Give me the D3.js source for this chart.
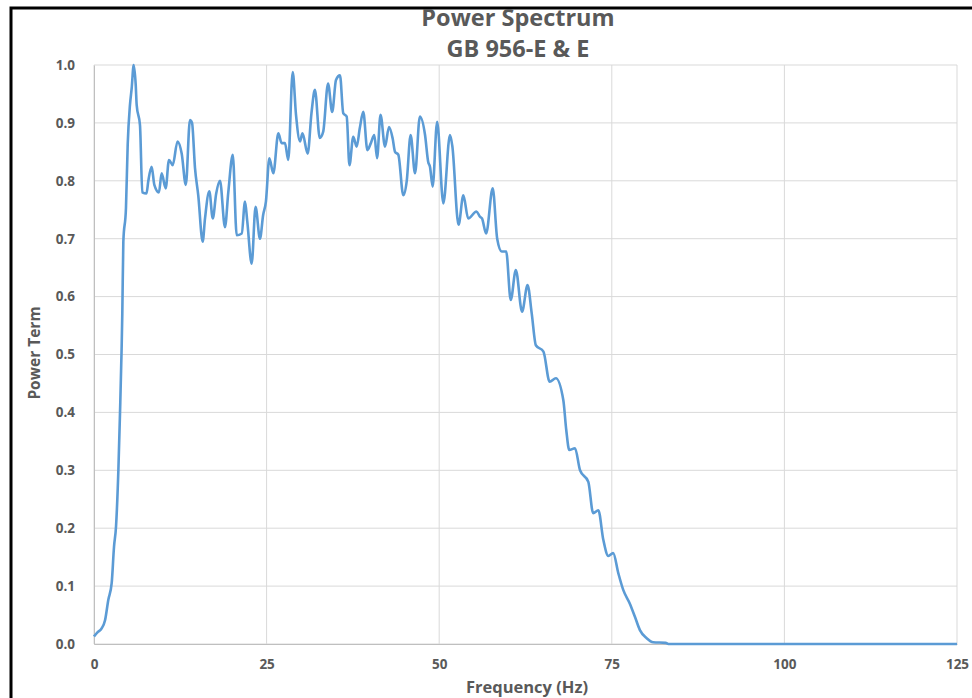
<!DOCTYPE html>
<html>
<head>
<meta charset="utf-8">
<script src="https://cdn.jsdelivr.net/npm/d3@7"></script>
<style>
  body { margin: 0; background: #fff; }
  text { font-family: "Open Sans", sans-serif; font-weight: bold; fill: #595959; }
</style>
</head>
<body>
<div id="chart"></div>
<script>
// Power spectrum
const freq = [0, 0.5, 1.11, 1.6, 2.07, 2.56, 2.9, 3.19, 3.53, 3.77, 4.0, 4.1, 4.25, 4.63, 4.88, 5.21, 5.46, 5.75,
  6.04, 6.18, 6.66, 7.0, 7.6, 7.87, 8.35, 8.74, 9.4, 9.8, 10.38, 10.86, 11.4, 12.1, 12.7, 13.3, 13.9, 14.2,
  14.63, 15.1, 15.74, 16.08, 16.7, 17.2, 17.7, 18.25, 18.97, 19.45, 20.1, 20.67, 21.4, 21.87, 22.2, 22.84,
  23.4, 24.04, 24.5, 24.9, 25.4, 25.97, 26.7, 27.18, 27.66, 28.14, 28.78, 29.26, 29.84, 30.2, 30.95, 31.5,
  32.0, 32.7, 33.2, 33.9, 34.5, 35.05, 35.63, 36.1, 36.6, 37.0, 37.55, 38.05, 38.5, 39.0, 39.6, 40.1, 40.6,
  41.0, 41.5, 42.15, 42.73, 43.26, 43.6, 44.08, 44.8, 45.3, 45.86, 46.5, 47.2, 47.95, 48.4, 48.67, 49.05,
  49.7, 50.6, 51.56, 51.9, 52.8, 53.5, 54.2, 55.4, 55.9, 56.2, 56.8, 57.75, 58.4, 59.05, 59.7, 60.36, 61.1,
  62.0, 62.8, 63.4, 64.0, 65.1, 66.0, 66.9, 67.98, 68.4, 68.84, 69.67, 70.4, 71.6, 72.3, 73.05, 73.77, 74.5,
  75.2, 75.95, 76.67, 77.6, 78.35, 79.07, 80.05, 81.0, 82.8, 83.2, 125];
const power = [0.013, 0.02, 0.027, 0.041, 0.076, 0.105, 0.168, 0.203, 0.30, 0.40, 0.51, 0.571, 0.695, 0.753, 0.862, 0.931, 0.96, 1.0,
  0.966, 0.931, 0.896, 0.78, 0.778, 0.80, 0.824, 0.793, 0.78, 0.813, 0.787, 0.836, 0.827, 0.868, 0.847, 0.793, 0.905, 0.90,
  0.822, 0.775, 0.695, 0.735, 0.782, 0.735, 0.778, 0.80, 0.72, 0.78, 0.845, 0.706, 0.709, 0.764, 0.73, 0.657,
  0.755, 0.70, 0.741, 0.764, 0.839, 0.813, 0.882, 0.865, 0.865, 0.836, 0.988, 0.914, 0.868, 0.882, 0.847, 0.917,
  0.957, 0.874, 0.885, 0.968, 0.919, 0.974, 0.982, 0.917, 0.911, 0.827, 0.876, 0.859, 0.891, 0.919, 0.853, 0.865, 0.879,
  0.839, 0.914, 0.859, 0.893, 0.873, 0.85, 0.845, 0.775, 0.80, 0.879, 0.813, 0.911, 0.879, 0.833, 0.824, 0.79,
  0.902, 0.761, 0.879, 0.86, 0.724, 0.775, 0.735, 0.747, 0.738, 0.735, 0.709, 0.787, 0.70, 0.678, 0.678, 0.594, 0.646,
  0.574, 0.62, 0.571, 0.516, 0.505, 0.453, 0.459, 0.421, 0.37, 0.335, 0.338, 0.30, 0.28, 0.226, 0.231, 0.18, 0.152,
  0.157, 0.122, 0.093, 0.07, 0.047, 0.024, 0.01, 0.003, 0.002, 0, 0];

const xTicks = [0, 25, 50, 75, 100, 125];
const yTicks = [0, 0.1, 0.2, 0.3, 0.4, 0.5, 0.6, 0.7, 0.8, 0.9, 1.0];

const width = 972;
const height = 698;
const margin = {left: 94, right: 15, top: 65, bottom: 54};

const svg = d3.select("#chart")
  .append("svg")
  .attr("width", width)
  .attr("height", height);

// frame (black border on top and left)
svg.append("path")
  .attr("d", `M11,${height} V8 H${width}`)
  .attr("fill", "none")
  .attr("stroke", "#000")
  .attr("stroke-width", 3);

const x = d3.scaleLinear().domain([0, 125]).range([margin.left, width - margin.right]);
const y = d3.scaleLinear().domain([0, 1]).range([height - margin.bottom, margin.top]);

// gridlines
svg.append("g")
  .selectAll("line")
  .data(yTicks)
  .join("line")
  .attr("x1", margin.left).attr("x2", x(125))
  .attr("y1", d => y(d)).attr("y2", d => y(d))
  .attr("stroke", "#d9d9d9").attr("stroke-width", 1);

svg.append("g")
  .selectAll("line")
  .data(xTicks)
  .join("line")
  .attr("x1", d => x(d)).attr("x2", d => x(d))
  .attr("y1", y(0)).attr("y2", y(1))
  .attr("stroke", "#d9d9d9").attr("stroke-width", 1);

// axes
const yAxis = svg.append("g")
  .attr("transform", `translate(${margin.left},0)`)
  .call(d3.axisLeft(y).tickValues(yTicks).tickFormat(d3.format(".1f")).tickSize(0).tickPadding(19));
yAxis.select(".domain").attr("stroke", "#bfbfbf");
yAxis.selectAll("text").attr("font-size", 13.5).attr("fill", "#595959");

const xAxis = svg.append("g")
  .attr("transform", `translate(0,${y(0)})`)
  .call(d3.axisBottom(x).tickValues(xTicks).tickSize(0).tickPadding(15));
xAxis.select(".domain").attr("stroke", "#bfbfbf");
xAxis.selectAll("text").attr("font-size", 13.5).attr("fill", "#595959");

// line
const points = freq.map((f, i) => [f, power[i]]);
svg.append("path")
  .datum(points)
  .attr("fill", "none")
  .attr("stroke", "#5b9bd5")
  .attr("stroke-width", 2.6)
  .attr("stroke-linejoin", "round")
  .attr("d", d3.line().x(d => x(d[0])).y(d => y(d[1])).curve(d3.curveMonotoneX));

// titles
svg.append("text")
  .attr("x", 518).attr("y", 26)
  .attr("text-anchor", "middle")
  .attr("font-size", 23.5)
  .text("Power Spectrum");
svg.append("text")
  .attr("x", 518).attr("y", 57)
  .attr("text-anchor", "middle")
  .attr("font-size", 23.5)
  .text("GB 956-E & E");

svg.append("text")
  .attr("x", 527).attr("y", 693)
  .attr("text-anchor", "middle")
  .attr("font-size", 16.5)
  .text("Frequency (Hz)");

svg.append("text")
  .attr("transform", "translate(40,353) rotate(-90)")
  .attr("text-anchor", "middle")
  .attr("font-size", 15.5)
  .text("Power Term");
</script>
</body>
</html>
